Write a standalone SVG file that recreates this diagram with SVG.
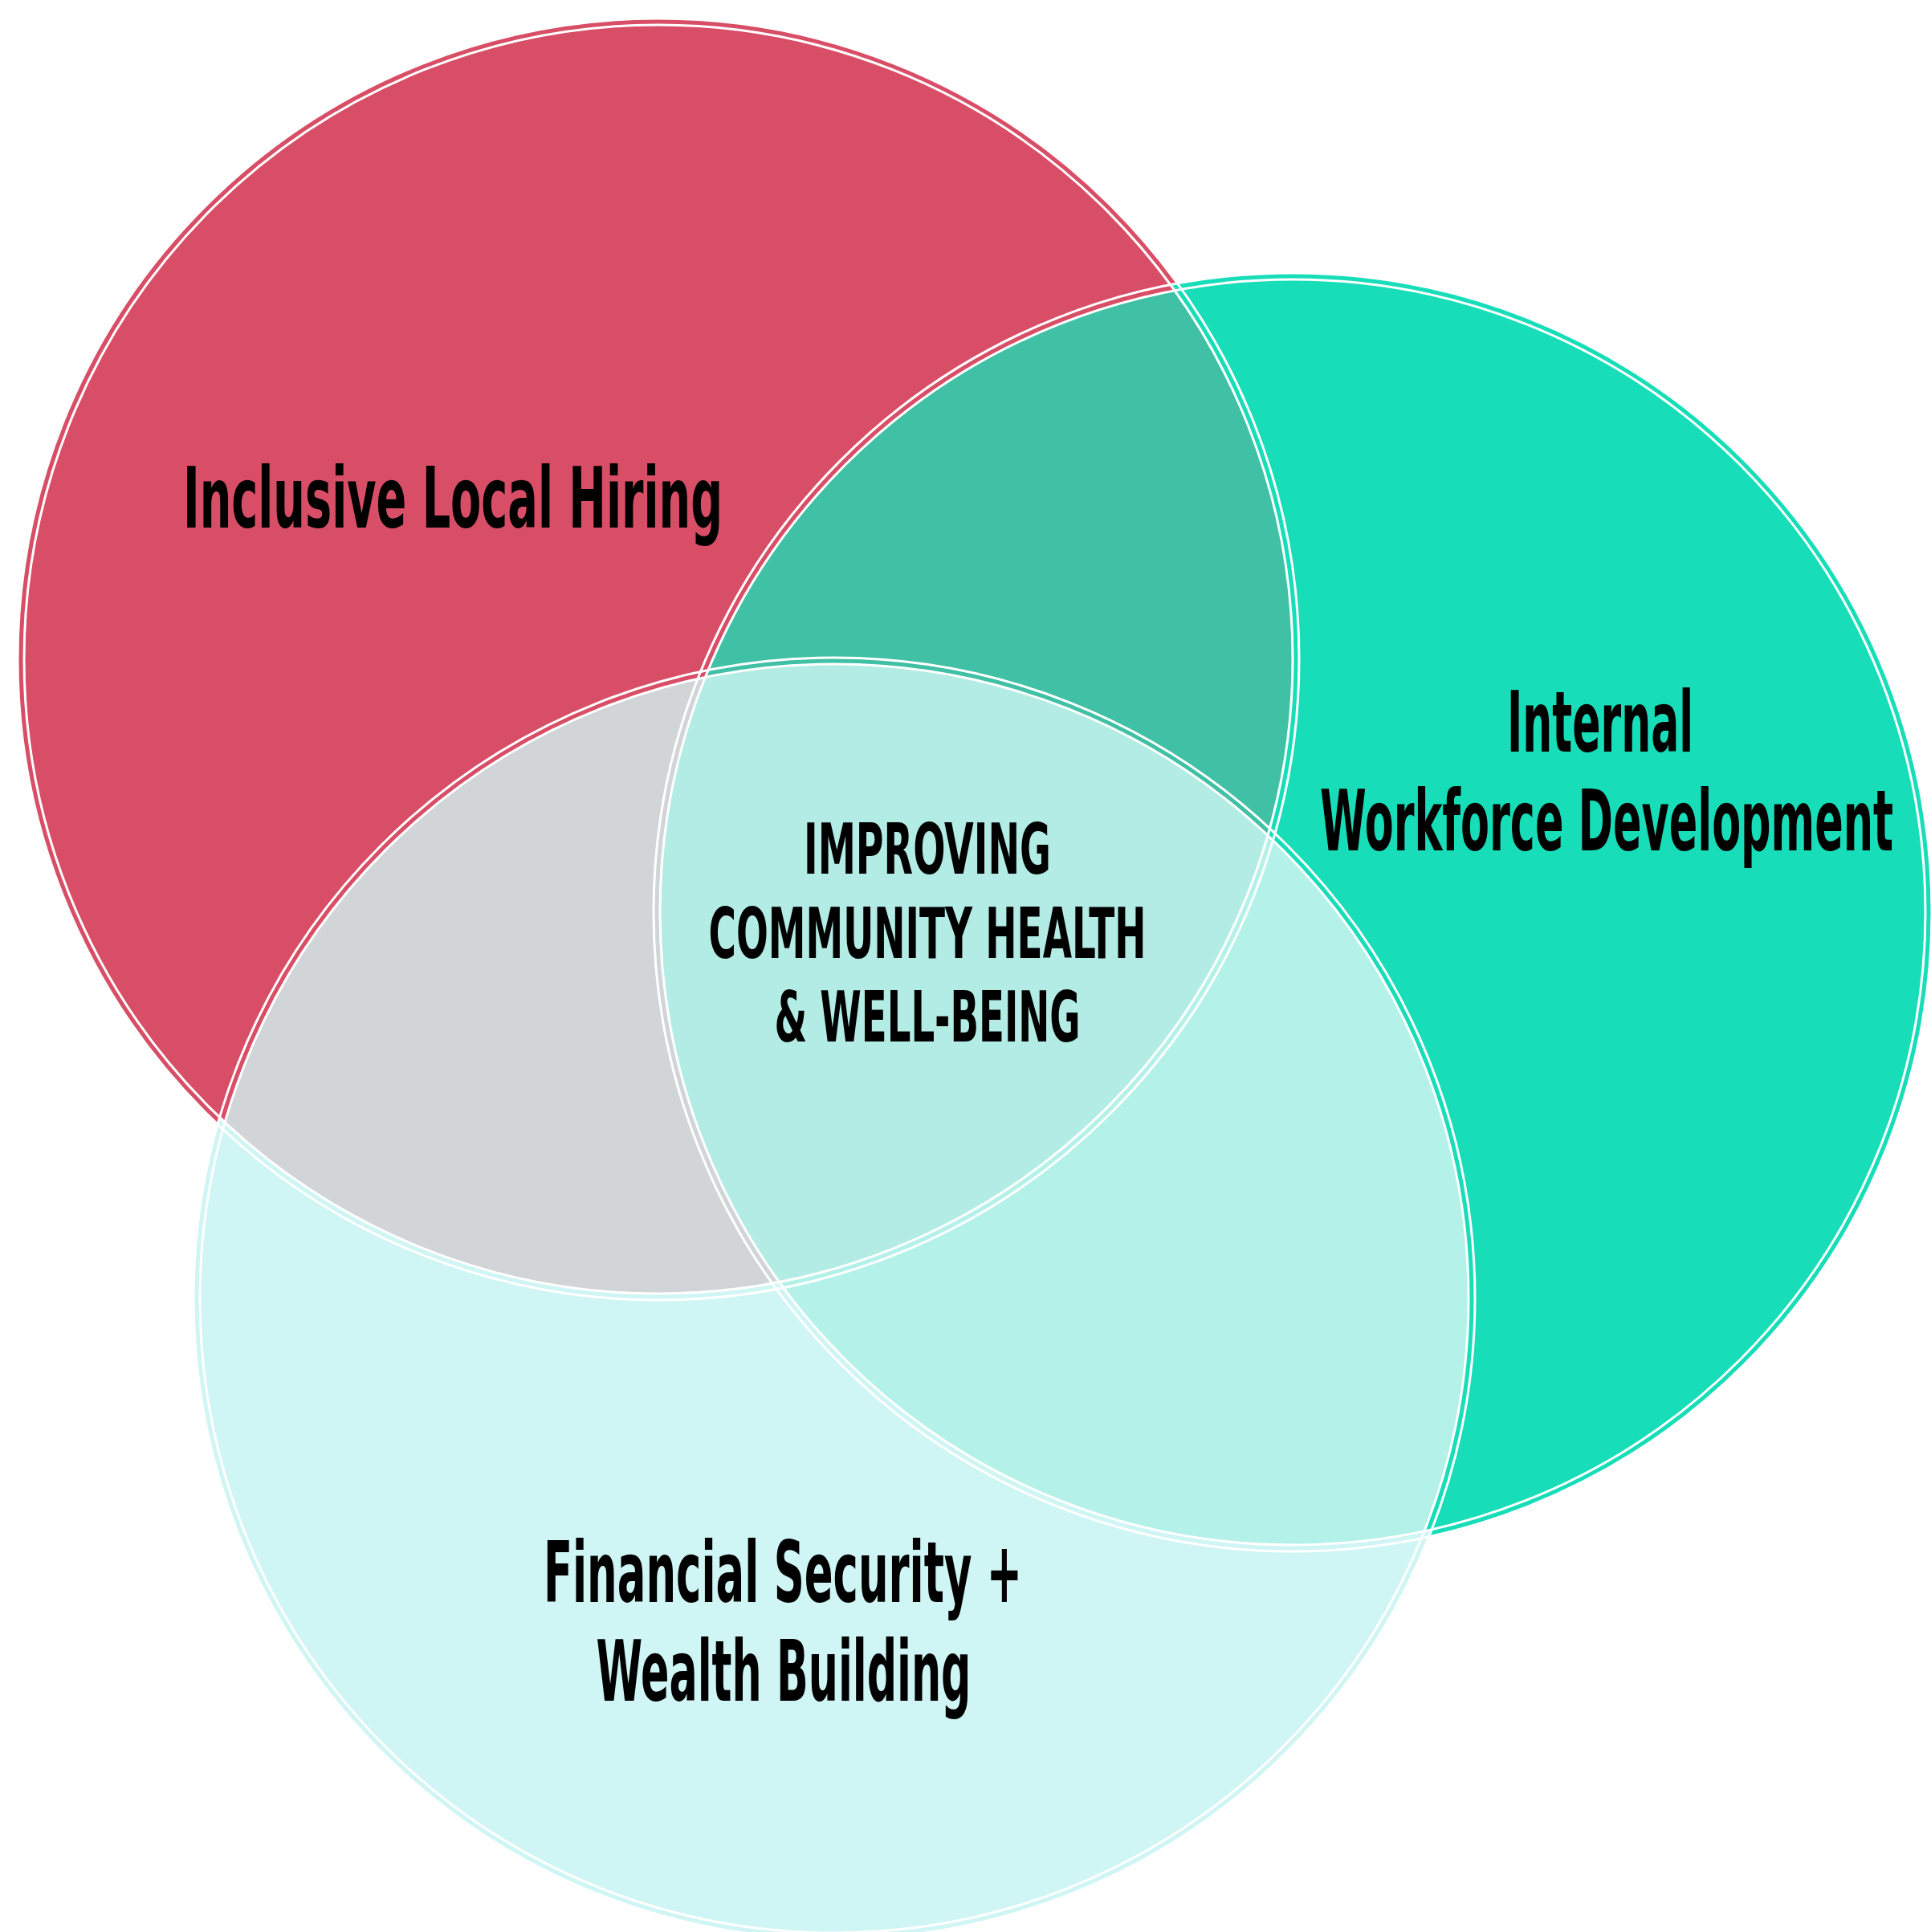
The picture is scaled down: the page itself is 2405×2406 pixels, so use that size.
<svg xmlns="http://www.w3.org/2000/svg" width="2405" height="2406" viewBox="0 0 2405 2406">
<style>
.lbl{font-family:"DejaVu Sans Condensed","DejaVu Sans",sans-serif;font-weight:bold;fill:#000;text-anchor:middle}
.big{font-size:106px}
.mid{font-size:88px}
.wl{fill:none;stroke:#fff;stroke-width:3}
</style>
<defs>
<clipPath id="clipRed"><circle cx="820" cy="821" r="790"/></clipPath>
<clipPath id="clipTeal"><circle cx="1610" cy="1136" r="788"/></clipPath>
</defs>
<rect width="2405" height="2406" fill="#fff"/>
<g id="bands">
<circle cx="820" cy="821" r="798" fill="#D94E67"/>
<circle cx="1610" cy="1136" r="796" fill="#17DDB8"/>
<circle cx="1039" cy="1617" r="798" fill="#CFF5F4"/>
</g>
<g id="node-inclusive-local-hiring">
<circle cx="820" cy="821" r="790" fill="#D94E67"/>
<text class="lbl big" transform="translate(564,657) scale(0.55,1)" textLength="1222" lengthAdjust="spacingAndGlyphs">Inclusive Local Hiring</text>
</g>
<g id="node-internal-workforce-development">
<circle cx="1610" cy="1136" r="788" fill="#17DDB8"/>
<text class="lbl big" transform="translate(1993,936) scale(0.55,1)" textLength="422" lengthAdjust="spacingAndGlyphs">Internal</text>
<text class="lbl big" transform="translate(2001,1059) scale(0.55,1)" textLength="1298" lengthAdjust="spacingAndGlyphs">Workforce Development</text>
</g>
<g id="node-financial-security-wealth-building">
<circle cx="1039" cy="1617" r="790" fill="#CFF5F4"/>
<text class="lbl big" transform="translate(975,1995) scale(0.55,1)" textLength="1084" lengthAdjust="spacingAndGlyphs">Financial Security +</text>
<text class="lbl big" transform="translate(976,2118) scale(0.55,1)" textLength="849" lengthAdjust="spacingAndGlyphs">Wealth Building</text>
</g>
<g id="overlaps">
<circle cx="1610" cy="1136" r="788" fill="#40C0A5" clip-path="url(#clipRed)"/>
<circle cx="1039" cy="1617" r="790" fill="#D1D5D8" clip-path="url(#clipRed)"/>
<circle cx="1039" cy="1617" r="790" fill="#B3F1E9" clip-path="url(#clipTeal)"/>
<g clip-path="url(#clipRed)">
<circle cx="1039" cy="1617" r="790" fill="#B2ECE5" clip-path="url(#clipTeal)"/>
</g>
</g>
<g id="outlines">
<circle class="wl" cx="820" cy="821" r="790"/>
<circle class="wl" cx="820" cy="821" r="798"/>
<circle class="wl" cx="1610" cy="1136" r="788"/>
<circle class="wl" cx="1610" cy="1136" r="796"/>
<circle class="wl" cx="1039" cy="1617" r="790"/>
<circle class="wl" cx="1039" cy="1617" r="798"/>
</g>
<g id="node-improving-community-health">
<text class="lbl mid" transform="translate(1155,1088) scale(0.55,1)" textLength="560" lengthAdjust="spacingAndGlyphs">IMPROVING</text>
<text class="lbl mid" transform="translate(1155,1193) scale(0.55,1)" textLength="991" lengthAdjust="spacingAndGlyphs">COMMUNITY HEALTH</text>
<text class="lbl mid" transform="translate(1155,1297) scale(0.55,1)" textLength="693" lengthAdjust="spacingAndGlyphs">&amp; WELL-BEING</text>
</g>
<g id="connectors"/>
</svg>
